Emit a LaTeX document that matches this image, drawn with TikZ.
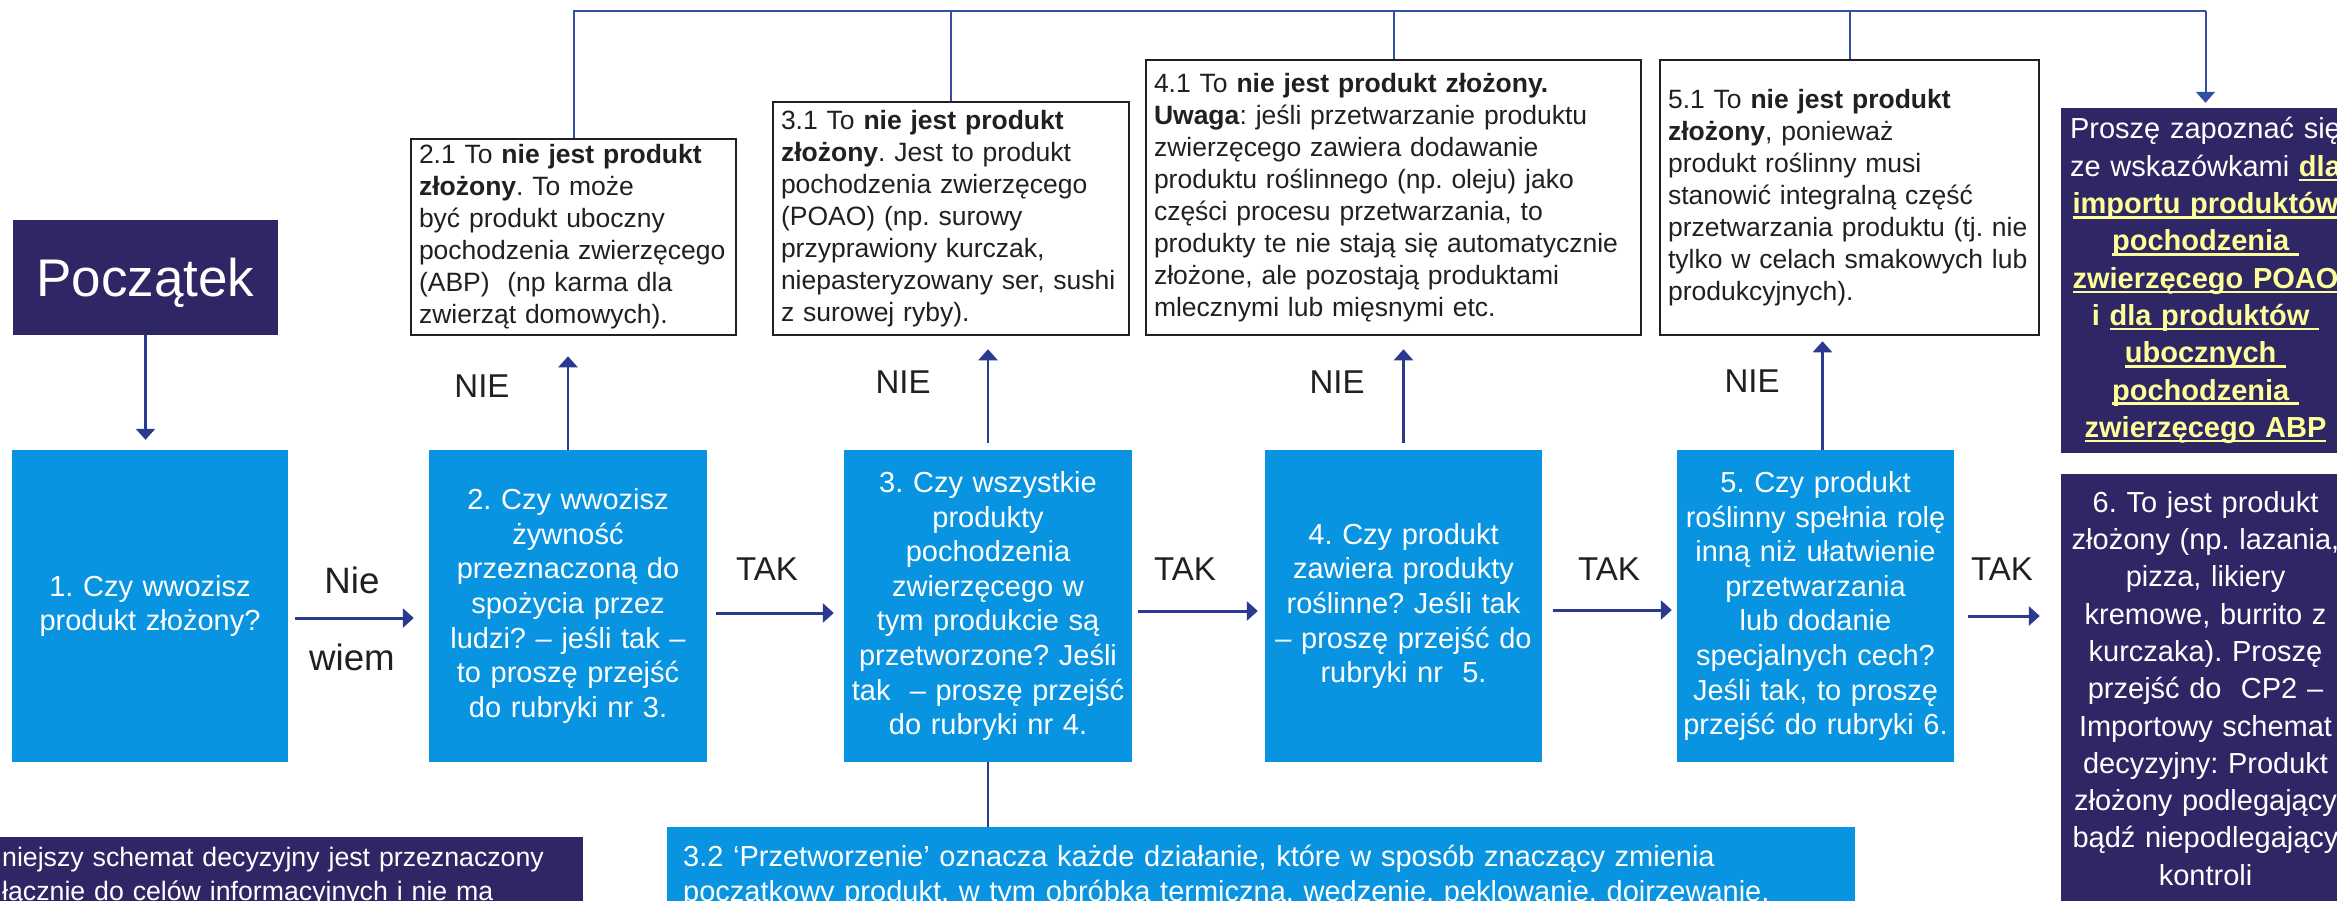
\documentclass[tikz,border=0pt]{standalone}
\usepackage{fontspec}
\setmainfont{Liberation Sans}
\usetikzlibrary{arrows.meta,calc}
\definecolor{qblue}{HTML}{0894E0}
\definecolor{navy}{HTML}{2F2665}
\definecolor{arrowc}{HTML}{2B3990}
\definecolor{busc}{HTML}{3350A0}
\definecolor{ink}{HTML}{231F20}
\definecolor{yel}{HTML}{FFFF99}
\newcommand\fs[2]{\fontsize{#1}{#2}\selectfont}
\newcommand\yul[1]{\leavevmode\setbox0\hbox{#1}\rlap{\rule[-5pt]{\wd0}{2.6pt}}\box0}
\newcommand\yl[1]{\leavevmode{\bfseries\color{yel}#1}}
\frenchspacing
\begin{document}
\frenchspacing
\begin{tikzpicture}[x=1pt,y=-1pt,
  qbox/.style={fill=qblue, text=white, font=\frenchspacing\fs{29}{34.6}, align=center, minimum height=312, inner xsep=5pt, inner ysep=0pt},
  nbox/.style={fill=navy, text=white, font=\frenchspacing\fs{29}{37.3}, align=center, inner xsep=5pt},
  sbox/.style={draw=ink, line width=2.5pt, fill=white, text=ink, font=\frenchspacing\fs{26.5}{32}, align=left, inner xsep=8pt, inner ysep=0pt},
  lab/.style={text=ink, font=\fs{33}{33}, anchor=base, inner sep=0pt},
  harrow/.style={draw=arrowc, line width=3pt, -{Triangle[length=11pt,width=19pt]}},
  varrow/.style={draw=arrowc, line width=2.2pt, -{Triangle[length=11pt,width=19pt]}},
  bus/.style={draw=busc, line width=2pt},
  link/.style={draw=arrowc, line width=2pt}]
\useasboundingbox (0,0) rectangle (2337,900);
\clip (0,0) rectangle (2337,900);

% start
\node[fill=navy, text=white, font=\fs{53}{53}, minimum width=265, minimum height=115, inner sep=0pt, text height=38pt, text depth=0pt] (start) at (145.5,277.5) {Początek};

% question boxes
\node[qbox, minimum width=276, text width=266] (b1) at (150,606) {1. Czy wwozisz\\produkt złożony?};
\node[qbox, minimum width=278, text width=268] (b2) at (568,606) {2. Czy wwozisz\\żywność\\przeznaczoną do\\spożycia przez\\ludzi? – jeśli tak –\\to proszę przejść\\do rubryki nr 3.};
\node[qbox, minimum width=288, text width=278] (b3) at (988,606) {3. Czy wszystkie\\produkty\\pochodzenia\\zwierzęcego w\\tym produkcie są\\przetworzone? Jeśli\\tak\ \ – proszę przejść\\do rubryki nr 4.};
\node[qbox, minimum width=277, text width=267] (b4) at (1403.5,606) {4. Czy produkt\\zawiera produkty\\roślinne? Jeśli tak\\– proszę przejść do\\rubryki nr\ \ 5.};
\node[qbox, minimum width=277, text width=267] (b5) at (1815.5,606) {5. Czy produkt\\roślinny spełnia rolę\\inną niż ułatwienie\\przetwarzania\\lub dodanie\\specjalnych cech?\\Jeśli tak, to proszę\\przejść do rubryki 6.};
\node[nbox, anchor=north, minimum width=289, text width=279, inner ysep=17pt] (b6) at (2205.5,474) {6. To jest produkt\\złożony (np. lazania,\\pizza, likiery\\kremowe, burrito z\\kurczaka). Proszę\\przejść do\ \ CP2 –\\Importowy schemat\\decyzyjny: Produkt\\złożony podlegający\\bądź niepodlegający\\kontroli};

% guidance box
\node[nbox, minimum width=289, minimum height=345, text width=279, inner ysep=0pt] (purp) at (2205.5,280.5) {Proszę zapoznać się\\ze wskazówkami \yl{\yul{dla}}\\\yl{\yul{importu produktów}}\\\yl{\yul{pochodzenia\ }}\\\yl{\yul{zwierzęcego POAO}}\\\yl{i \yul{dla produktów\ }}\\\yl{\yul{ubocznych\ }}\\\yl{\yul{pochodzenia\ }}\\\yl{\yul{zwierzęcego ABP}}};

% "not composite" boxes
\node[sbox, minimum width=325, text width=309, minimum height=196] (s21) at (573.5,237) {2.1 To \textbf{nie jest produkt}\\\textbf{złożony}. To może\\być produkt uboczny\\pochodzenia zwierzęcego\\(ABP)\ \ (np karma dla\\zwierząt domowych).};
\node[sbox, minimum width=356, text width=340, minimum height=233] (s31) at (951,218.5) {3.1 To \textbf{nie jest produkt}\\\textbf{złożony}. Jest to produkt\\pochodzenia zwierzęcego\\(POAO) (np. surowy\\przyprawiony kurczak,\\niepasteryzowany ser, sushi\\z surowej ryby).};
\node[sbox, minimum width=495, text width=479, minimum height=275] (s41) at (1393.5,197.5) {4.1 To \textbf{nie jest produkt złożony.}\\\textbf{Uwaga}: jeśli przetwarzanie produktu\\zwierzęcego zawiera dodawanie\\produktu roślinnego (np. oleju) jako\\części procesu przetwarzania, to\\produkty te nie stają się automatycznie\\złożone, ale pozostają produktami\\mlecznymi lub mięsnymi etc.};
\node[sbox, minimum width=379, text width=363, minimum height=275] (s51) at (1849.5,197.5) {5.1 To \textbf{nie jest produkt}\\\textbf{złożony}, ponieważ\\produkt roślinny musi\\stanowić integralną część\\przetwarzania produktu (tj.~nie\\tylko w celach smakowych lub\\produkcyjnych).};

% bottom boxes
\node[fill=qblue, text=white, font=\frenchspacing\fs{29}{34.6}, align=left, anchor=north west, minimum width=1188, text width=1156, inner xsep=16pt, inner ysep=18pt] (p32) at (667,827) {3.2 ‘Przetworzenie’ oznacza każde działanie, które w sposób znaczący zmienia\\początkowy produkt, w tym obróbka termiczna, wędzenie, peklowanie, dojrzewanie,};
\node[fill=navy, text=white, font=\frenchspacing\fs{26.7}{34}, align=left, anchor=north west, minimum width=583, text width=579, inner xsep=2pt, inner ysep=9.5pt] (disc) at (0,837) {niejszy schemat decyzyjny jest przeznaczony\\łącznie do celów informacyjnych i nie ma};

% labels
\node[lab] (n1) at (482,397) {NIE};
\node[lab] (n2) at (903,393) {NIE};
\node[lab] (n3) at (1337,393) {NIE};
\node[lab] (n4) at (1752,392) {NIE};
\node[lab] (t1) at (767,580) {TAK};
\node[lab] (t2) at (1185,580) {TAK};
\node[lab] (t3) at (1609,580) {TAK};
\node[lab] (t4) at (2002,580) {TAK};
\node[lab, font=\fs{36.7}{36.7}] (nie) at (352,593) {Nie};
\node[lab, font=\fs{36.7}{36.7}] (wiem) at (352,670) {wiem};

% arrows
\draw[varrow, shorten >=10pt] (start.south) -- (start.south |- b1.north);
\draw[harrow, shorten <=7pt, shorten >=15pt] ([yshift=-12pt]b1.east) -- ([yshift=-12pt]b2.west);
\draw[harrow, shorten <=9pt, shorten >=10pt] ([yshift=-7pt]b2.east) -- ([yshift=-7pt]b3.west);
\draw[harrow, shorten <=6pt, shorten >=7pt] ([yshift=-5pt]b3.east) -- ([yshift=-5pt]b4.west);
\draw[harrow, shorten <=11pt, shorten >=5pt] ([yshift=-4pt]b4.east) -- ([yshift=-4pt]b5.west);
\draw[harrow, shorten <=14pt, shorten >=21pt] ([yshift=-10pt]b5.east) -- ([yshift=-10pt]b5.east -| b6.west);

\draw[varrow, shorten >=20pt] (b2.north) -- (b2.north |- s21.south);
\draw[varrow, shorten <=7pt, shorten >=13pt] (b3.north) -- (b3.north |- s31.south);
\draw[varrow, shorten <=7pt, shorten >=13pt] (b4.north) -- (b4.north |- s41.south);
\draw[varrow, shorten >=5pt] ([xshift=7pt]b5.north) -- ([xshift=7pt]b5.north |- s51.south);

% bus to guidance
\coordinate (busL) at ($(s21.north)+(0,-127)$);
\coordinate (busR) at (purp.north |- busL);
\draw[bus] (s21.north) -- (busL) -- (busR);
\draw[bus] (s31.north) -- (s31.north |- busL);
\draw[bus] (s41.north) -- (s41.north |- busL);
\draw[bus] (s51.north) -- (s51.north |- busL);
\draw[bus, -{Triangle[length=11pt,width=19pt]}, shorten >=5pt] (busR) -- (purp.north);

\draw[link] (b3.south) -- (b3.south |- p32.north);
\end{tikzpicture}
\end{document}
